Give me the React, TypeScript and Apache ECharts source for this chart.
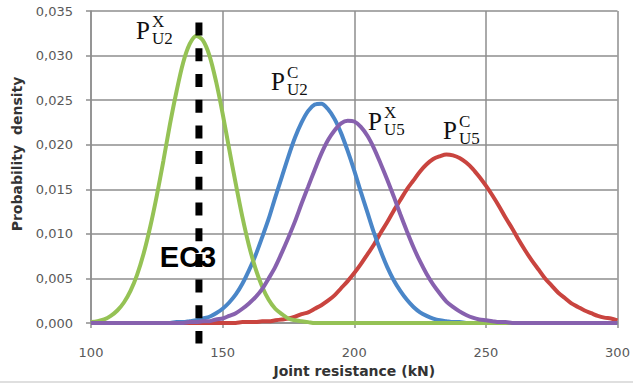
import React, { useEffect, useRef } from "react";
import * as echarts from "echarts";

// Joint resistance (kN) sample positions (2.5 kN step)
const xValues = [
  100, 102.5, 105, 107.5, 110, 112.5, 115, 117.5, 120, 122.5,
  125, 127.5, 130, 132.5, 135, 137.5, 140, 142.5, 145, 147.5,
  150, 152.5, 155, 157.5, 160, 162.5, 165, 167.5, 170, 172.5,
  175, 177.5, 180, 182.5, 185, 187.5, 190, 192.5, 195, 197.5,
  200, 202.5, 205, 207.5, 210, 212.5, 215, 217.5, 220, 222.5,
  225, 227.5, 230, 232.5, 235, 237.5, 240, 242.5, 245, 247.5,
  250, 252.5, 255, 257.5, 260, 262.5, 265, 267.5, 270, 272.5,
  275, 277.5, 280, 282.5, 285, 287.5, 290, 292.5, 295, 297.5,
  300,
];

// P^X_U2 (green)
const pU2X = [
  0.0001, 0.0002, 0.0004, 0.0008, 0.0014, 0.0023, 0.0036, 0.0054, 0.0078, 0.0108,
  0.0143, 0.0182, 0.0223, 0.026, 0.0292, 0.0313, 0.0322, 0.0317, 0.03, 0.0271,
  0.0235, 0.0195, 0.0156, 0.0119, 0.0087, 0.0061, 0.0041, 0.0026, 0.0016, 0.001,
  0.0005, 0.0003, 0.0002, 0.0001, 0, 0, 0, 0, 0, 0,
  0, 0, 0, 0, 0, 0, 0, 0, 0, 0,
  0, 0, 0, 0, 0, 0, 0, 0, 0, 0,
  0, 0, 0, 0, 0, 0, 0, 0, 0, 0,
  0, 0, 0, 0, 0, 0, 0, 0, 0, 0,
  0,
];

// P^C_U2 (blue)
const pU2C = [
  0, 0, 0, 0, 0, 0, 0, 0, 0, 0,
  0, 0, 0, 0.0001, 0.0001, 0.0002, 0.0003, 0.0005, 0.0007, 0.0011,
  0.0016, 0.0023, 0.0032, 0.0044, 0.0059, 0.0076, 0.0096, 0.0117, 0.0141, 0.0164,
  0.0187, 0.0208, 0.0225, 0.0238, 0.0245, 0.0246, 0.024, 0.0229, 0.0213, 0.0193,
  0.0171, 0.0147, 0.0124, 0.0101, 0.0081, 0.0063, 0.0048, 0.0036, 0.0026, 0.0018,
  0.0012, 0.0008, 0.0005, 0.0003, 0.0002, 0.0001, 0.0001, 0, 0, 0,
  0, 0, 0, 0, 0, 0, 0, 0, 0, 0,
  0, 0, 0, 0, 0, 0, 0, 0, 0, 0,
  0,
];

// P^X_U5 (purple)
const pU5X = [
  0, 0, 0, 0, 0, 0, 0, 0, 0, 0,
  0, 0, 0, 0, 0, 0.0001, 0.0001, 0.0002, 0.0002, 0.0004,
  0.0005, 0.0008, 0.0011, 0.0016, 0.0022, 0.0029, 0.0038, 0.005, 0.0063, 0.0079,
  0.0096, 0.0114, 0.0134, 0.0153, 0.0172, 0.019, 0.0205, 0.0216, 0.0224, 0.0227,
  0.0226, 0.022, 0.021, 0.0196, 0.0179, 0.0161, 0.0142, 0.0122, 0.0103, 0.0085,
  0.0069, 0.0055, 0.0043, 0.0033, 0.0024, 0.0018, 0.0013, 0.0009, 0.0006, 0.0004,
  0.0003, 0.0002, 0.0001, 0.0001, 0, 0, 0, 0, 0, 0,
  0, 0, 0, 0, 0, 0, 0, 0, 0, 0,
  0,
];

// P^C_U5 (red)
const pU5C = [
  0, 0, 0, 0, 0, 0, 0, 0, 0, 0,
  0, 0, 0, 0, 0, 0, 0, 0, 0, 0,
  0, 0, 0, 0.0001, 0.0001, 0.0001, 0.0002, 0.0002, 0.0003, 0.0004,
  0.0005, 0.0007, 0.001, 0.0012, 0.0016, 0.002, 0.0025, 0.0031, 0.0039, 0.0047,
  0.0056, 0.0066, 0.0077, 0.0088, 0.0101, 0.0113, 0.0126, 0.0138, 0.015, 0.016,
  0.017, 0.0178, 0.0184, 0.0187, 0.0189, 0.0188, 0.0185, 0.018, 0.0173, 0.0164,
  0.0154, 0.0143, 0.0131, 0.0118, 0.0106, 0.0093, 0.0081, 0.007, 0.006, 0.005,
  0.0042, 0.0034, 0.0028, 0.0022, 0.0018, 0.0014, 0.0011, 0.0008, 0.0006, 0.0005,
  0.0003,
];

// EC3 reference line (x in kN, y extent in density units)
const ec3X = [141, 141];
const ec3Y = [0.0337, -0.0023];

const xTicks = { min: 100, max: 300, interval: 50 };
const yTicks = { min: 0, max: 0.035, interval: 0.005 };

const zip = (ys: number[]) => xValues.map((x, i) => [x, ys[i]]);

const tickFont = "'DejaVu Sans', sans-serif";
const serif = "'Liberation Serif', 'Times New Roman', serif";

function pLabel(px: number, py: number, sup: string, sub: string) {
  return [
    {
      type: "text",
      x: px,
      y: py,
      style: { text: "P", fontSize: 25, fontFamily: serif, fill: "#111", align: "left", verticalAlign: "middle" },
    },
    {
      type: "text",
      x: px + 16,
      y: py - 9,
      style: { text: sup, fontSize: 17, fontFamily: serif, fill: "#111", align: "left", verticalAlign: "middle" },
    },
    {
      type: "text",
      x: px + 16,
      y: py + 8.5,
      style: { text: sub, fontSize: 17, fontFamily: serif, fill: "#111", align: "left", verticalAlign: "middle" },
    },
  ];
}

export default function App() {
  const ref = useRef<HTMLDivElement>(null);
  useEffect(() => {
    if (!ref.current) return;
    const chart = echarts.init(ref.current, undefined, { renderer: "svg" });
    const gridColor = "#8e8e8e";
    const lineSeries = (name: string, data: number[], color: string, z: number) => ({
      name,
      type: "line",
      data: zip(data),
      smooth: 0.3,
      symbol: "none",
      z,
      lineStyle: { color, width: 4 },
    });
    chart.setOption({
      animation: false,
      backgroundColor: "#ffffff",
      grid: { left: 91, right: 15.5, top: 11, bottom: 62, containLabel: false },
      xAxis: {
        type: "value",
        min: xTicks.min,
        max: xTicks.max,
        interval: xTicks.interval,
        axisLine: { show: true, lineStyle: { color: gridColor, width: 1.5 } },
        axisTick: { show: true, length: 5, lineStyle: { color: gridColor, width: 1.5 } },
        splitLine: { show: true, lineStyle: { color: gridColor, width: 1.5 } },
        axisLabel: { color: "#595959", fontSize: 13, fontFamily: tickFont, margin: 23 },
        name: "Joint resistance (kN)",
        nameLocation: "middle",
        nameGap: 41,
        nameTextStyle: { color: "#333", fontSize: 14, fontWeight: "bold", fontFamily: tickFont },
      },
      yAxis: {
        type: "value",
        min: yTicks.min,
        max: yTicks.max,
        interval: yTicks.interval,
        axisLine: { show: true, lineStyle: { color: gridColor, width: 1.5 } },
        axisTick: { show: true, length: 5, lineStyle: { color: gridColor, width: 1.5 } },
        splitLine: { show: true, lineStyle: { color: gridColor, width: 1.5 } },
        axisLabel: {
          color: "#595959",
          fontSize: 13,
          fontFamily: tickFont,
          margin: 18,
          formatter: (v: number) => v.toFixed(3).replace(".", ","),
        },
      },
      series: [
        lineSeries("P^C_U5", pU5C, "#C9443F", 2),
        lineSeries("P^C_U2", pU2C, "#4A86C8", 3),
        lineSeries("P^X_U2", pU2X, "#95C255", 4),
        lineSeries("P^X_U5", pU5X, "#8761AE", 5),
        {
          name: "EC3",
          type: "line",
          data: ec3X.map((x, i) => [x, ec3Y[i]]),
          symbol: "none",
          clip: false,
          z: 10,
          lineStyle: { color: "#000", width: 7, type: [13, 12.7], cap: "butt" },
        },
      ],
      graphic: [
        {
          type: "text",
          x: 17,
          y: 154,
          rotation: Math.PI / 2,
          style: {
            text: "Probability  density",
            fontSize: 14,
            fontWeight: "bold",
            fontFamily: tickFont,
            fill: "#333",
            align: "center",
            verticalAlign: "middle",
          },
        },
        {
          type: "text",
          x: 188,
          y: 257,
          z: 20,
          style: {
            text: "EC3",
            fontSize: 29,
            fontWeight: "bold",
            fontFamily: "'Liberation Sans', Arial, sans-serif",
            fill: "#000",
            align: "center",
            verticalAlign: "middle",
          },
        },
        ...pLabel(136, 30, "X", "U2"),
        ...pLabel(271, 81, "C", "U2"),
        ...pLabel(368, 121, "X", "U5"),
        ...pLabel(443, 130, "C", "U5"),
        {
          type: "line",
          shape: { x1: 0, y1: 382, x2: 633, y2: 382 },
          style: { stroke: "#d4d4d4", lineWidth: 1.5 },
        },
      ],
    });
    return () => chart.dispose();
  }, []);
  return <div ref={ref} style={{ width: 633, height: 385, position: "absolute", left: 0, top: 0 }} />;
}
